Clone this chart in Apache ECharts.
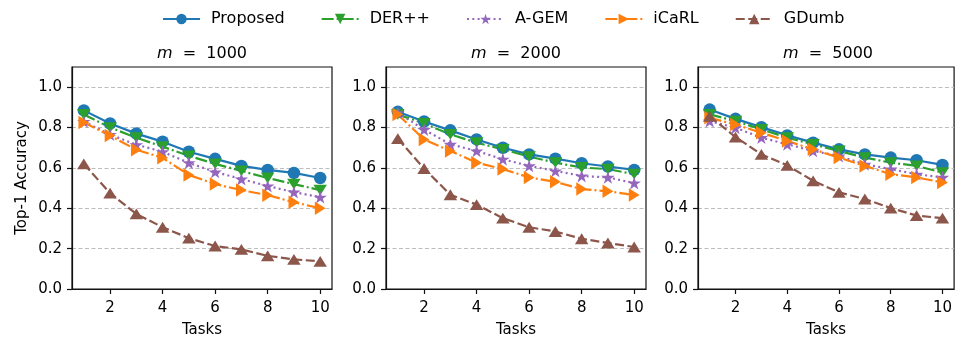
<!DOCTYPE html>
<html>
<head>
<meta charset="utf-8">
<script src="https://cdn.jsdelivr.net/npm/echarts@6/dist/echarts.min.js"></script>
<style>
  html, body { margin: 0; padding: 0; background: #fff; }
  #chart { width: 955px; height: 343px; }
</style>
</head>
<body>
<div id="chart"></div>
<script>
const tasks = [1, 2, 3, 4, 5, 6, 7, 8, 9, 10];
const xTicks = [2, 4, 6, 8, 10];
const yTicks = [0, 0.2, 0.4, 0.6, 0.8, 1.0];
const memorySizes = [1000, 2000, 5000];
const methods = ['Proposed', 'DER++', 'A-GEM', 'iCaRL', 'GDumb'];

// m = 1000
const proposed1000 = [0.885, 0.82, 0.77, 0.73, 0.68, 0.645, 0.61, 0.59, 0.575, 0.55];
const derpp1000 = [0.865, 0.80, 0.75, 0.705, 0.66, 0.62, 0.585, 0.55, 0.52, 0.49];
const agem1000 = [0.83, 0.765, 0.715, 0.68, 0.625, 0.58, 0.545, 0.51, 0.48, 0.455];
const icarl1000 = [0.825, 0.76, 0.69, 0.65, 0.565, 0.52, 0.49, 0.465, 0.43, 0.40];
const gdumb1000 = [0.62, 0.475, 0.372, 0.306, 0.252, 0.213, 0.196, 0.164, 0.147, 0.137];

// m = 2000
const proposed2000 = [0.878, 0.83, 0.786, 0.741, 0.70, 0.667, 0.646, 0.623, 0.607, 0.59];
const derpp2000 = [0.865, 0.82, 0.766, 0.725, 0.692, 0.656, 0.626, 0.602, 0.594, 0.569];
const agem2000 = [0.873, 0.79, 0.717, 0.684, 0.643, 0.61, 0.585, 0.56, 0.553, 0.525];
const icarl2000 = [0.865, 0.741, 0.684, 0.626, 0.594, 0.553, 0.531, 0.495, 0.484, 0.466];
const gdumb2000 = [0.745, 0.597, 0.467, 0.418, 0.351, 0.306, 0.285, 0.249, 0.228, 0.208];

// m = 5000
const proposed5000 = [0.889, 0.843, 0.802, 0.761, 0.725, 0.692, 0.667, 0.651, 0.638, 0.615];
const derpp5000 = [0.865, 0.832, 0.791, 0.75, 0.717, 0.684, 0.651, 0.626, 0.61, 0.577];
const agem5000 = [0.832, 0.799, 0.75, 0.717, 0.684, 0.659, 0.618, 0.594, 0.569, 0.553];
const icarl5000 = [0.848, 0.815, 0.774, 0.733, 0.692, 0.651, 0.61, 0.569, 0.553, 0.528];
const gdumb5000 = [0.856, 0.753, 0.667, 0.613, 0.536, 0.479, 0.446, 0.401, 0.364, 0.351];

const panels = [
  [proposed1000, derpp1000, agem1000, icarl1000, gdumb1000],
  [proposed2000, derpp2000, agem2000, icarl2000, gdumb2000],
  [proposed5000, derpp5000, agem5000, icarl5000, gdumb5000]
];

const font = 'DejaVu Sans';
const star = 'path://M50 0L61.2 34.5L97.6 34.5L68.2 55.9L79.4 90.5L50 69.1L20.6 90.5L31.8 55.9L2.4 34.5L38.8 34.5Z';
const styles = [
  { color: '#1f77b4', symbol: 'circle', size: 12.5, dash: 'solid' },
  { color: '#2ca02c', symbol: 'path://M0 0L10 0L5 9Z', size: [13.5, 12], dash: [12, 3, 2, 3] },
  { color: '#9467bd', symbol: star, size: 13.5, dash: [2, 3.3] },
  { color: '#ff7f0e', symbol: 'path://M0 0L9 5L0 10Z', size: [12, 13.5], dash: [12, 3, 2, 3] },
  { color: '#8c564b', symbol: 'path://M5 0L10 9L0 9Z', size: [13.5, 12], dash: [9, 3.5] }
];

const lefts = [72, 386, 698];
const grids = lefts.map(l => ({
  left: l, top: 67, width: 260, height: 223,
  show: true, borderColor: '#111', borderWidth: 1.2, containLabel: false
}));

const xAxes = lefts.map((l, i) => ({
  type: 'value', gridIndex: i, min: 0.55, max: 10.45,
  name: 'Tasks', nameLocation: 'middle', nameGap: 34,
  nameTextStyle: { fontFamily: font, fontSize: 15, color: '#000' },
  axisLine: { show: true, lineStyle: { color: '#111', width: 1.2 } },
  axisTick: { show: true, length: 5, customValues: xTicks, lineStyle: { color: '#111', width: 1.2 } },
  axisLabel: { customValues: xTicks, fontFamily: font, fontSize: 15, color: '#000', margin: 12 },
  splitLine: { show: false }
}));

const yAxes = lefts.map((l, i) => ({
  type: 'value', gridIndex: i, min: 0, max: 1.1,
  name: i === 0 ? 'Top-1 Accuracy' : '', nameLocation: 'middle', nameGap: 42,
  nameTextStyle: { fontFamily: font, fontSize: 15, color: '#000' },
  axisLine: { show: true, lineStyle: { color: '#111', width: 1.2 } },
  axisTick: { show: true, length: 5, customValues: yTicks, lineStyle: { color: '#111', width: 1.2 } },
  axisLabel: {
    customValues: yTicks, fontFamily: font, fontSize: 15, color: '#000', margin: 10,
    formatter: v => v.toFixed(1)
  },
  splitLine: { show: true, lineStyle: { color: '#bdbdbd', width: 1, type: [4, 2.5] } }
}));

const series = [];
panels.forEach((vals, p) => {
  vals.forEach((arr, k) => {
    const s = styles[k];
    series.push({
      name: methods[k], type: 'line', xAxisIndex: p, yAxisIndex: p,
      data: tasks.map((t, j) => [t, arr[j]]),
      symbol: s.symbol, symbolSize: s.size, symbolKeepAspect: true, showAllSymbol: true,
      itemStyle: { color: s.color },
      lineStyle: { color: s.color, width: 2.2, type: s.dash },
      emphasis: { disabled: true }
    });
  });
});

const titles = memorySizes.map((m, i) => ({
  text: '{i|m}  =  ' + m,
  left: lefts[i] + 125, top: 41, textAlign: 'center',
  textStyle: {
    fontFamily: font, fontSize: 16, fontWeight: 'normal', color: '#000',
    rich: { i: { fontFamily: font, fontSize: 16, fontStyle: 'italic', color: '#000' } }
  }
}));

const chart = echarts.init(document.getElementById('chart'), null, { renderer: 'canvas' });
chart.setOption({
  animation: false,
  backgroundColor: '#fff',
  title: titles,
  legend: {
    data: methods, top: 6, left: 157, itemWidth: 37, itemHeight: 13, itemGap: 36,
    textStyle: { fontFamily: font, fontSize: 16, color: '#000', padding: [0, 0, 0, 6] }
  },
  grid: grids,
  xAxis: xAxes,
  yAxis: yAxes,
  series: series
});
</script>
</body>
</html>
